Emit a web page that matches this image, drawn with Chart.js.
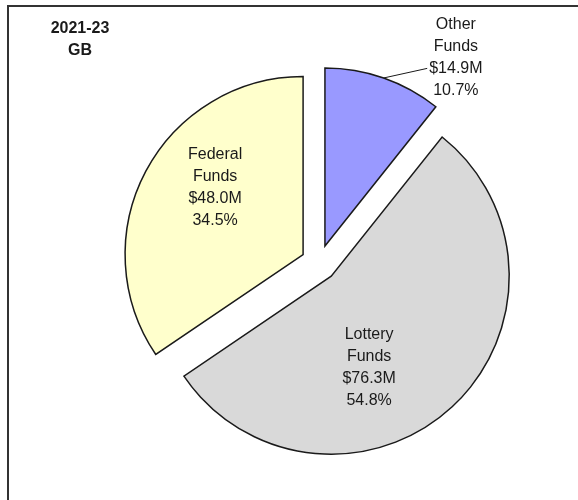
<!DOCTYPE html>
<html>
<head>
<meta charset="utf-8">
<script src="https://cdn.jsdelivr.net/npm/chart.js@4"></script>
<style>
  html, body { margin: 0; padding: 0; background: #fff; overflow: hidden; }
  #wrap { position: relative; width: 578px; height: 500px; }
  #frame { position: absolute; left: 7px; top: 5px; width: 700px; height: 700px; border: 2px solid #333; }
  canvas { position: absolute; left: 0; top: 0; }
</style>
</head>
<body>
<div id="wrap">
  <div id="frame"></div>
  <canvas id="chart1" width="578" height="500"></canvas>
</div>
<script>
// data, drawn clockwise from 12 o'clock
var fundNames = ['Other Funds', 'Lottery Funds', 'Federal Funds'];
var amounts = [14.9, 76.3, 48.0];      // $ millions
var shares = [10.7, 54.8, 34.5];       // percent of total
var titleLines = ['2021-23', 'GB'];

var colors = ['#9999ff', '#d9d9d9', '#ffffcc'];
var EXPLODE = 18;
// where each label sits: extra angle (deg) from slice middle, fraction of radius
var labelSpots = [
    { shift: 15.5, frac: 1.29, leader: true },
    { shift: 20.2, frac: 0.554, leader: false },
    { shift: 9.2, frac: 0.62, leader: false }
];
var LINE_H = 22;
var FONT = '16px "Liberation Sans", Arial, sans-serif';

function labelText(i) {
    var words = fundNames[i].split(' ');
    return [words[0], words[1], '$' + amounts[i].toFixed(1) + 'M', shares[i].toFixed(1) + '%'];
}

const explodePlugin = {
    id: 'explode',
    beforeDatasetDraw(chart, args) {
        const ctx = chart.ctx;
        args.meta.data.forEach(arc => {
            const mid = (arc.startAngle + arc.endAngle) / 2;
            ctx.save();
            ctx.translate(Math.cos(mid) * EXPLODE, Math.sin(mid) * EXPLODE);
            arc.draw(ctx);
            ctx.restore();
        });
        return false;
    }
};

const labelPlugin = {
    id: 'labels',
    afterDatasetsDraw(chart) {
        const ctx = chart.ctx;
        const arcs = chart.getDatasetMeta(0).data;
        ctx.save();
        ctx.fillStyle = '#1a1a1a';
        ctx.textAlign = 'center';
        ctx.textBaseline = 'middle';

        arcs.forEach((arc, i) => {
            const mid = (arc.startAngle + arc.endAngle) / 2;
            const vx = arc.x + Math.cos(mid) * EXPLODE;
            const vy = arc.y + Math.sin(mid) * EXPLODE;
            const spot = labelSpots[i];
            const a = mid + spot.shift * Math.PI / 180;
            const lx = vx + Math.cos(a) * arc.outerRadius * spot.frac;
            const ly = vy + Math.sin(a) * arc.outerRadius * spot.frac;
            const lines = labelText(i);
            ctx.font = FONT;
            lines.forEach((t, k) => {
                ctx.fillText(t, lx, ly + (k - 1.5) * LINE_H);
            });
            if (spot.leader) {
                const ty = ly + 0.5 * LINE_H;
                const tx = lx - ctx.measureText(lines[2]).width / 2 - 2;
                ctx.beginPath();
                ctx.strokeStyle = '#1a1a1a';
                ctx.lineWidth = 1;
                ctx.moveTo(vx + Math.cos(mid) * arc.outerRadius, vy + Math.sin(mid) * arc.outerRadius);
                ctx.lineTo(tx, ty);
                ctx.stroke();
            }
        });

        ctx.font = 'bold 16px "Liberation Sans", Arial, sans-serif';
        titleLines.forEach((t, k) => {
            ctx.fillText(t, 80, 29 + k * 22);
        });
        ctx.restore();
    }
};

new Chart(document.getElementById('chart1'), {
    type: 'pie',
    data: {
        labels: fundNames,
        datasets: [{
            data: amounts,
            backgroundColor: colors,
            borderColor: '#1a1a1a',
            borderWidth: 1.5,
            borderJoinStyle: 'miter'
        }]
    },
    options: {
        responsive: false,
        animation: false,
        radius: 178,
        layout: { padding: { left: 60, top: 26, right: 0, bottom: 0 } },
        plugins: {
            legend: { display: false },
            tooltip: { enabled: false }
        }
    },
    plugins: [explodePlugin, labelPlugin]
});
</script>
</body>
</html>
